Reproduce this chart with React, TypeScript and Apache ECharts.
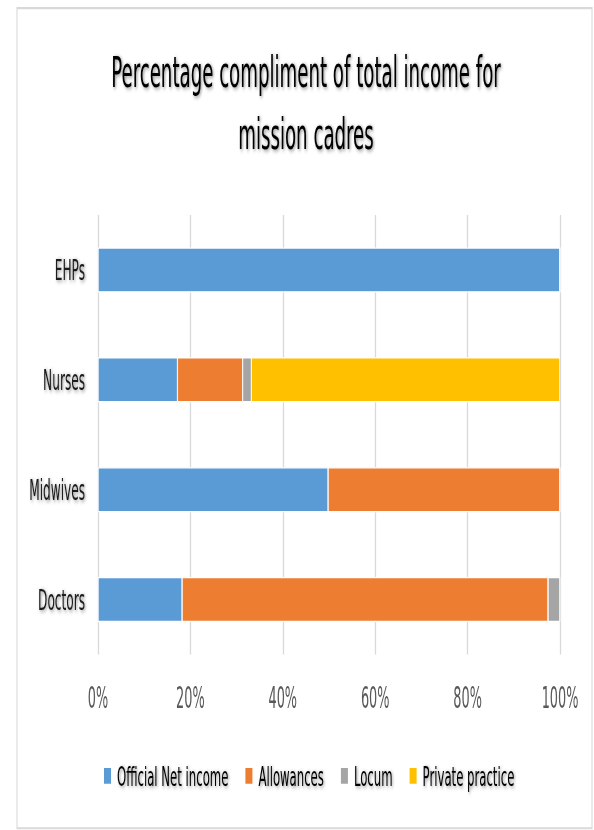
import React, { useEffect, useRef } from "react";
import * as echarts from "echarts";

const categories = ["Doctors", "Midwives", "Nurses", "EHPs"];
const seriesNames = ["Official Net income", "Allowances", "Locum", "Private practice"];
const officialNet = [18.2, 49.8, 17.2, 100];
const allowances = [79.2, 50.2, 14.1, 0];
const locum = [2.6, 0, 1.9, 0];
const privatePractice = [0, 0, 66.8, 0];
const xTicks = [0, 20, 40, 60, 80, 100];
const titleLines = ["Percentage compliment of total income for", "mission cadres"];

const colors = ["#5B9BD5", "#ED7D31", "#A5A5A5", "#FFC000"];
const FONT = "'Liberation Sans Narrow', 'DejaVu Sans Condensed', 'Arial Narrow', sans-serif";
const K = 2.1;
const W = 594;
const H = 830 / K;

const shadow = {
  textShadowColor: "rgba(0,0,0,0.45)",
  textShadowBlur: 2,
  textShadowOffsetX: 1,
  textShadowOffsetY: 0.6,
};

export default function App() {
  const ref = useRef<HTMLDivElement>(null);
  useEffect(() => {
    if (!ref.current) return;
    const chart = echarts.init(ref.current, null, { renderer: "svg" });
    const values = [officialNet, allowances, locum, privatePractice];
    chart.setOption({
      animation: false,
      backgroundColor: "#ffffff",
      color: colors,
      graphic: [
        {
          type: "rect",
          shape: { x: 17, y: 3.9, width: 575, height: 390.6 },
          style: { fill: "none", stroke: "#d9d9d9", lineWidth: 1.1 },
          silent: true,
        },
        {
          type: "text",
          x: 306,
          y: 19.5,
          style: {
            text: titleLines.join("\n"),
            align: "center",
            verticalAlign: "top",
            fontFamily: FONT,
            fontSize: 20.2,
            lineHeight: 29.6,
            fill: "#000000",
            ...shadow,
          },
        },
      ],
      grid: { left: 98, right: 34, top: 215 / K, bottom: H - 655 / K, containLabel: false },
      xAxis: {
        type: "value",
        min: xTicks[0],
        max: xTicks[xTicks.length - 1],
        interval: 20,
        axisLine: { show: false },
        axisTick: { show: false },
        splitLine: { lineStyle: { color: "#d9d9d9", width: 1.3 } },
        axisLabel: {
          formatter: "{value}%",
          color: "#595959",
          fontFamily: FONT,
          fontSize: 14.3,
          margin: 13.8,
        },
      },
      yAxis: {
        type: "category",
        data: categories,
        axisLine: { show: false },
        axisTick: { show: false },
        axisLabel: {
          color: "#1a1a1a",
          fontFamily: FONT,
          fontSize: 13.5,
          margin: 13,
          ...shadow,
        },
      },
      legend: {
        data: seriesNames,
        left: 102,
        top: 363,
        padding: 0,
        itemWidth: 9,
        itemHeight: 9.5,
        itemGap: 15,
        icon: "rect",
        textStyle: {
          color: "#000000",
          fontFamily: FONT,
          fontSize: 13,
          ...shadow,
        },
      },
      series: seriesNames.map((name, i) => ({
        name,
        type: "bar",
        stack: "total",
        barWidth: "41%",
        data: values[i],
        itemStyle: { color: colors[i], borderColor: "#ffffff", borderWidth: 0.6 },
      })),
    });
    return () => chart.dispose();
  }, []);
  return (
    <div
      style={{
        position: "absolute",
        left: 0,
        top: 0,
        width: W,
        height: 830,
        overflow: "hidden",
        background: "#fff",
      }}
    >
      <div
        ref={ref}
        style={{
          width: W,
          height: H,
          transform: `scaleY(${K})`,
          transformOrigin: "0 0",
        }}
      />
    </div>
  );
}
